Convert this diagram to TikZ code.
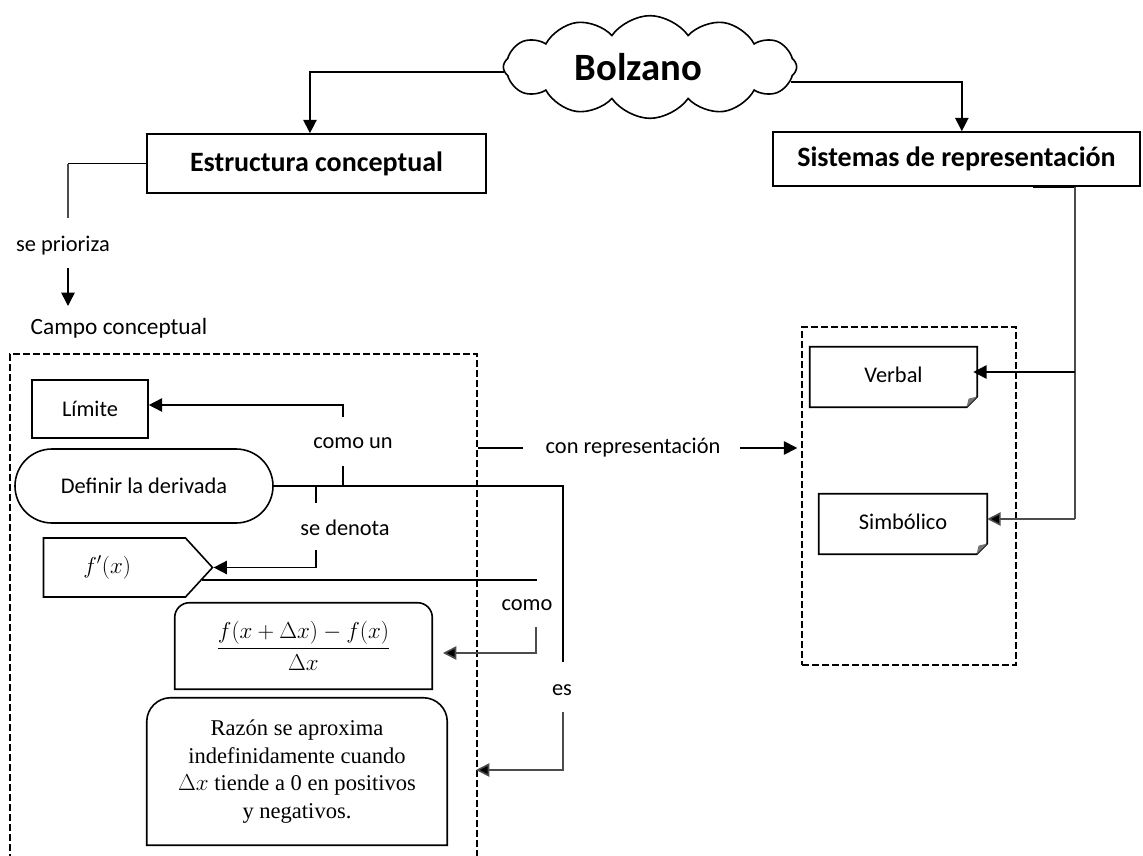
\documentclass[tikz,border=0pt]{standalone}
\usepackage[no-math]{fontspec}
\setmainfont{Carlito}
\newfontfamily\serifr{Liberation Serif}
\usetikzlibrary{arrows.meta,shapes.symbols,shapes.misc,calc}

\tikzset{
  lw/.style={line width=1.2pt},
  arr/.style={line width=1.2pt,-{Triangle[length=10pt,width=10pt]}},
  gln/.style={line width=1.2pt,draw=black!70},
  garr/.style={line width=1.2pt,draw=black!70,-{Triangle[length=10pt,width=10pt,fill=black]}},
  boxn/.style={draw,line width=1.2pt,inner sep=0pt,font=\fontsize{16.8}{20}\selectfont},
  head/.style={draw,line width=1.2pt,inner sep=0pt,font=\bfseries\fontsize{21}{25}\selectfont},
  lbl/.style={inner sep=0pt,font=\fontsize{16.8}{20}\selectfont},
  dbox/.style={draw,line width=1.1pt,dash pattern=on 5pt off 2.5pt,inner sep=0pt},
}
\newcommand\foldbox[1]{%
  \draw[lw] (#1.south west) -- (#1.north west) -- (#1.north east) -- ([yshift=8pt]#1.south east) -- ([xshift=-8pt]#1.south east) -- cycle;
  \fill[black!55] ([yshift=8pt]#1.south east) -- ([xshift=-8pt]#1.south east) -- ([xshift=-6.5pt,yshift=6.5pt]#1.south east) -- cycle;}

\begin{document}
\begin{tikzpicture}[x=0.75pt,y=-0.75pt]
\useasboundingbox (0,0) rectangle (1143,856);

% dashed containers
\node[dbox,minimum width=350.25pt,minimum height=387pt] (campo) at (243.5,612) {};
\node[dbox,minimum width=160.5pt,minimum height=253.5pt] (repbox) at (909,496) {};

% cloud
\node[cloud,cloud puffs=12,cloud puff arc=110,cloud ignores aspect,draw,lw,minimum width=220pt,minimum height=77pt,inner sep=0pt,font=\bfseries\fontsize{29}{34}\selectfont] (bolz) at (650,67) {Bolzano\hspace*{17pt}};

% headings
\node[head,minimum width=254.25pt,minimum height=44.25pt] (estr) at (316.5,163.5) {Estructura conceptual};
\node[head,minimum width=275.25pt,minimum height=40.5pt] (sis) at (956.5,159) {Sistemas de representación};

\draw[arr] (bolz.182) -| ([xshift=-4.9pt]estr.north);
\draw[arr] (bolz.-6) -| ([xshift=4pt]sis.north);

% se prioriza
\node[lbl] (prio) at (63,246) {se prioriza};
\node[lbl,font=\fontsize{17.5}{20}\selectfont] (campoL) at (119,328) {Campo conceptual};
\coordinate (p1) at (68,218);
\draw[lw] (estr.west) -- (p1 |- estr.west);
\draw[gln] (p1 |- estr.west) -- (p1);
\coordinate (p2) at (68,268);
\coordinate (p3) at (68,306);
\draw[arr] (p2) -- (p3);

% inner nodes of campo
\node[boxn,minimum width=87pt,minimum height=43.5pt] (lim) at (90,409) {Límite};
\node[boxn,rounded rectangle,minimum width=193.5pt,minimum height=55.5pt] (defd) at (144,486) {Definir la derivada};
\node[boxn,signal,signal to=east,signal pointer angle=95,minimum width=126.75pt,minimum height=44.25pt,font=\fontsize{17}{20}\selectfont] (fp) at (114.5,567.5) {$f'(x)$\hspace*{11pt}};
\node[inner sep=0pt,minimum width=192.75pt,minimum height=64.5pt,font=\fontsize{16.5}{20}\selectfont] (frac) at (303.5,646) {$\displaystyle\frac{f(x+\Delta x)-f(x)}{\Delta x}$};
\draw[lw] (frac.south west) -- ([yshift=-11pt]frac.north west) arc[start angle=180,end angle=90,radius=11pt] -- ([xshift=-11pt]frac.north east) arc[start angle=90,end angle=0,radius=11pt] -- (frac.south east) -- cycle;
\node[inner sep=0pt,minimum width=225pt,minimum height=110.25pt,align=center,font=\serifr\fontsize{16.9}{20.8}\selectfont] (raz) at (297,771.5) {Razón se aproxima\\indefinidamente cuando\\$\Delta x$ tiende a 0 en positivos\\y negativos.};
\draw[lw] (raz.south west) -- ([yshift=-18pt]raz.north west) arc[start angle=180,end angle=90,radius=18pt] -- ([xshift=-18pt]raz.north east) arc[start angle=90,end angle=0,radius=18pt] -- (raz.south east) -- cycle;

% como un
\coordinate (cu1) at (343,417);
\draw[arr] (cu1) |- ([yshift=3pt]lim.east);
\node[lbl] (comoun) at (353,443) {como un};
\coordinate (cu2) at (343,466);
\coordinate (dj) at (343,486);
\draw[lw] (cu2) -- (dj);

% definir -> es
\coordinate (es1) at (563,662);
\draw[lw] (defd.east) -| (es1);
\node[lbl] (es) at (562,690) {es};
\coordinate (es2) at (563,712);
\coordinate (es3) at (476,770);
\draw[garr] (es2) |- (es3);

% se denota
\coordinate (sd1) at (316,486);
\coordinate (sd2) at (316,503);
\draw[lw] (sd1) -- (sd2);
\node[lbl] (sedenota) at (345,528) {se denota};
\coordinate (sd3) at (316,550);
\draw[arr] (sd3) |- (fp.east);

% como
\coordinate (cm1) at (537,578);
\draw[lw] (fp.-8) -- (fp.-8 -| cm1);
\node[lbl] (como) at (527,605) {como};
\coordinate (cm2) at (536,627);
\coordinate (cm3) at (443,653);
\draw[garr] (cm2) |- (cm3);

% con representacion
\node[lbl] (conrep) at (633,448) {con representación};
\coordinate (cr1) at (523,448);
\draw[lw] (campo.east |- conrep) -- (cr1);
\coordinate (cr2) at (740,448);
\draw[arr] (cr2) -- ([xshift=-3pt]repbox.west |- conrep);

% Verbal, Simbolico
\node[inner sep=0pt,minimum width=125.25pt,minimum height=45pt,font=\fontsize{16.8}{20}\selectfont] (verb) at (893.5,377) {\raisebox{3.75pt}{Verbal}};
\foldbox{verb}
\node[inner sep=0pt,minimum width=126pt,minimum height=45pt,font=\fontsize{16.8}{20}\selectfont] (simb) at (903,524) {\raisebox{3.75pt}{Simbólico}};
\foldbox{simb}

% sistemas connectors
\coordinate (sb) at (1075,186.5);
\draw[line width=2.6pt] (sb) -- ++(-42,0);
\coordinate (sv) at (1075,519);
\draw[gln] (sb) -- (sv);
\coordinate (sverb) at (1075,372);
\draw[arr] (sverb) -- ([xshift=-3pt]verb.east |- sverb);
\draw[garr] (sv) -- (simb.east |- sv);
\end{tikzpicture}
\end{document}
